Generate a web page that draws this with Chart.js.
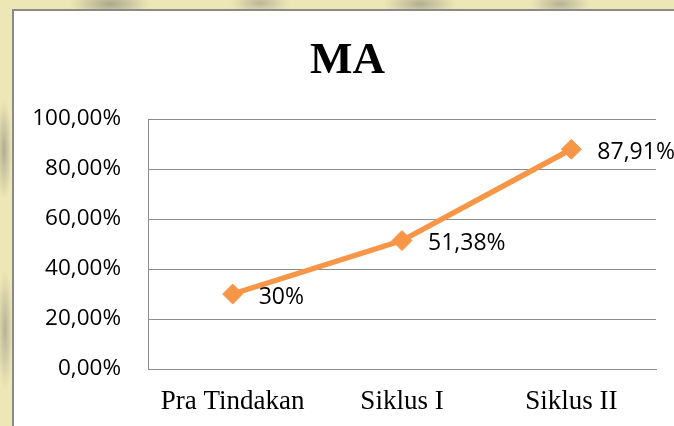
<!DOCTYPE html>
<html>
<head>
<meta charset="utf-8">
<script src="https://cdn.jsdelivr.net/npm/chart.js@4.4.1/dist/chart.umd.min.js"></script>
<style>
  html, body { margin: 0; padding: 0; width: 674px; height: 426px; overflow: hidden; }
  body {
    position: relative;
    background-color: #ede7b6;
    background-image:
      radial-gradient(ellipse 40px 14px at 110px 4px, rgba(120,115,110,0.55), rgba(120,115,110,0) 100%),
      radial-gradient(ellipse 30px 12px at 260px 3px, rgba(130,125,120,0.45), rgba(130,125,120,0) 100%),
      radial-gradient(ellipse 36px 12px at 420px 4px, rgba(120,115,110,0.5), rgba(120,115,110,0) 100%),
      radial-gradient(ellipse 30px 12px at 560px 4px, rgba(130,125,120,0.5), rgba(130,125,120,0) 100%),
      radial-gradient(ellipse 8px 50px at 4px 150px, rgba(120,115,110,0.5), rgba(120,115,110,0) 100%),
      radial-gradient(ellipse 8px 60px at 5px 330px, rgba(130,125,120,0.5), rgba(130,125,120,0) 100%);
  }
  #box {
    position: absolute; left: 12px; top: 9px; width: 700px; height: 460px;
    background: #ffffff; border: 2px solid #8a8a8a; box-sizing: border-box;
  }
  #wrap { position: absolute; left: 0; top: 0; width: 674px; height: 426px; }
</style>
</head>
<body>
<div id="box"></div>
<div id="wrap"><canvas id="c" width="674" height="426"></canvas></div>
<script>
// ---- data ----
const chartTitle = "MA";
const categories = ["Pra Tindakan", "Siklus I", "Siklus II"];
const values = [30, 51.38, 87.91];
const valueLabels = ["30%", "51,38%", "87,91%"];
const yTickValues = [0, 20, 40, 60, 80, 100];
const yTickLabels = ["0,00%", "20,00%", "40,00%", "60,00%", "80,00%", "100,00%"];

const orange = "#F79646";
const gridGrey = "#8c8c8c";

const overlayPlugin = {
  id: "overlay",
  afterDraw(chart) {
    const ctx = chart.ctx;
    ctx.save();
    // title
    ctx.fillStyle = "#000";
    ctx.font = "bold 45px 'Liberation Serif', 'Times New Roman', serif";
    ctx.textAlign = "center";
    ctx.textBaseline = "alphabetic";
    ctx.fillText(chartTitle, 347.5, 73);
    // data labels
    const meta = chart.getDatasetMeta(0);
    ctx.font = "23px 'Open Sans', sans-serif";
    ctx.textAlign = "left";
    ctx.textBaseline = "middle";
    meta.data.forEach((pt, i) => {
      ctx.fillText(valueLabels[i], pt.x + 26, pt.y + 3);
    });
    ctx.restore();
  }
};

new Chart(document.getElementById("c"), {
  type: "line",
  data: {
    labels: categories,
    datasets: [{
      data: values,
      borderColor: orange,
      backgroundColor: orange,
      borderWidth: 5.5,
      pointStyle: "rectRot",
      pointRadius: 10,
      pointBorderWidth: 1,
      pointBorderColor: orange,
      pointBackgroundColor: orange,
      tension: 0,
      clip: false
    }]
  },
  options: {
    responsive: false,
    animation: false,
    events: [],
    layout: { padding: { left: 12, right: 18, top: 119, bottom: 0 } },
    plugins: { legend: { display: false }, title: { display: false }, tooltip: { enabled: false } },
    scales: {
      x: {
        offset: true,
        grid: { display: false, drawTicks: false },
        border: { display: true, color: gridGrey, width: 1 },
        ticks: {
          color: "#000",
          padding: 17,
          maxRotation: 0,
          font: { family: "'Liberation Serif', 'Times New Roman', serif", size: 27 }
        },
        afterFit(scale) { scale.height = 57; }
      },
      y: {
        min: 0, max: 100,
        grid: { color: gridGrey, lineWidth: 1, drawTicks: false },
        border: { display: true, color: gridGrey, width: 1 },
        afterBuildTicks(scale) { scale.ticks = yTickValues.map(v => ({ value: v })); },
        ticks: {
          color: "#000",
          padding: 27,
          font: { family: "'Open Sans', sans-serif", size: 22.5 },
          callback(value) {
            const i = yTickValues.indexOf(value);
            return i >= 0 ? yTickLabels[i] : "";
          }
        },
        afterFit(scale) { scale.width = 136; }
      }
    }
  },
  plugins: [overlayPlugin]
});
</script>
</body>
</html>
